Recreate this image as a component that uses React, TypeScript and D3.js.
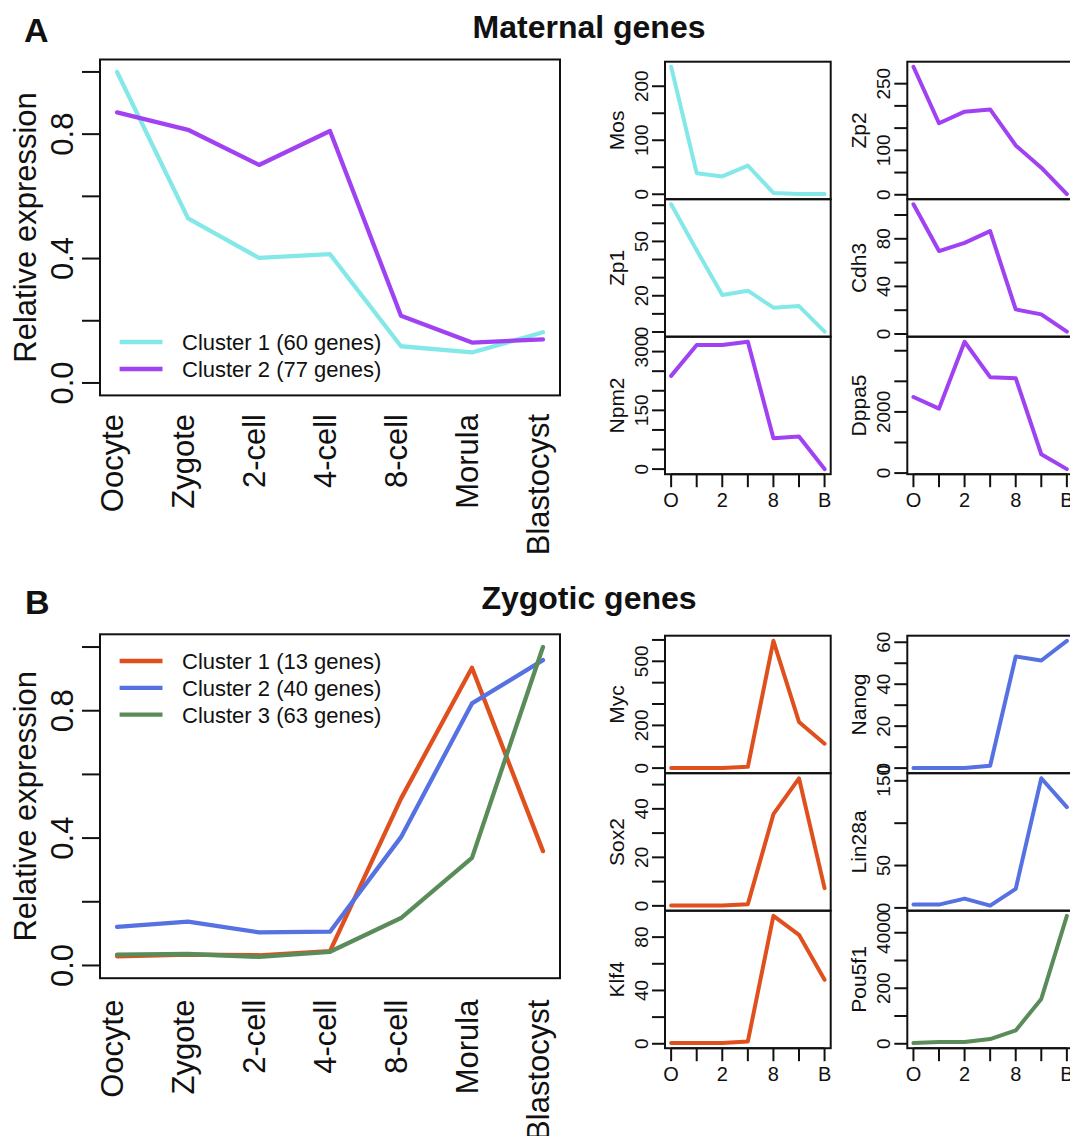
import React from "react";
import * as d3 from "d3";

// ---------- data ----------
const stages = ["Oocyte", "Zygote", "2-cell", "4-cell", "8-cell", "Morula", "Blastocyst"];
const shortStageLabels = ["O", "", "2", "", "8", "", "B"];

const maternalLegend = ["Cluster 1 (60 genes)", "Cluster 2 (77 genes)"];
const maternalCluster1 = [1.0, 0.529, 0.402, 0.414, 0.118, 0.098, 0.163];
const maternalCluster2 = [0.870, 0.814, 0.701, 0.810, 0.216, 0.130, 0.140];

const zygoticLegend = ["Cluster 1 (13 genes)", "Cluster 2 (40 genes)", "Cluster 3 (63 genes)"];
const zygoticCluster1 = [0.029, 0.034, 0.032, 0.045, 0.524, 0.935, 0.359];
const zygoticCluster2 = [0.121, 0.138, 0.104, 0.106, 0.403, 0.823, 0.959];
const zygoticCluster3 = [0.034, 0.036, 0.027, 0.043, 0.149, 0.338, 1.0];

const bigTicks = [0, 0.2, 0.4, 0.6, 0.8, 1.0];
const bigTickLabels = ["0.0", "", "0.4", "", "0.8", ""];

// maternal genes
const mosValues = [236, 39, 33, 53, 2.5, 0.5, 0.3];
const zp1Values = [70.5, 45.1, 20.4, 22.8, 13.4, 14.3, 0.2];
const npm2Values = [238, 317, 317, 325, 79, 83, 0];
const zp2Values = [288, 161, 187, 192, 111, 61, 1.5];
const cdh3Values = [109, 69.7, 76.6, 86.4, 20.7, 16.5, 2];
const dppa5Values = [2486, 2108, 4292, 3135, 3103, 616, 130];
// zygotic genes
const mycValues = [0, 0, 0, 6, 596, 216, 114];
const sox2Values = [0.1, 0.1, 0.1, 0.7, 37.8, 52.6, 7.3];
const klf4Values = [0.5, 0.5, 0.5, 1.75, 96, 81.75, 48];
const nanogValues = [0, 0, 0, 1.1, 53.2, 51.3, 60.7];
const lin28aValues = [3.9, 3.9, 11, 2.7, 22.4, 153, 119];
const pou5f1Values = [24, 60, 60, 168, 479, 1617, 4611];

const mosTicks = [0, 50, 100, 150, 200];
const mosTickLabels = ["0", "", "100", "", "200"];
const zp1Ticks = [0, 10, 20, 30, 40, 50, 60, 70];
const zp1TickLabels = ["0", "", "20", "", "", "50", "", ""];
const npm2Ticks = [0, 50, 100, 150, 200, 250, 300];
const npm2TickLabels = ["0", "", "", "150", "", "", "300"];
const zp2Ticks = [0, 50, 100, 150, 200, 250];
const zp2TickLabels = ["0", "", "100", "", "", "250"];
const cdh3Ticks = [0, 20, 40, 60, 80, 100];
const cdh3TickLabels = ["0", "", "40", "", "80", ""];
const dppa5Ticks = [0, 1000, 2000, 3000, 4000];
const dppa5TickLabels = ["0", "", "2000", "", ""];
const mycTicks = [0, 100, 200, 300, 400, 500, 600];
const mycTickLabels = ["0", "", "200", "", "", "500", ""];
const sox2Ticks = [0, 10, 20, 30, 40, 50];
const sox2TickLabels = ["0", "", "20", "", "40", ""];
const klf4Ticks = [0, 20, 40, 60, 80];
const klf4TickLabels = ["0", "", "40", "", "80"];
const nanogTicks = [0, 10, 20, 30, 40, 50, 60];
const nanogTickLabels = ["0", "", "20", "", "40", "", "60"];
const lin28aTicks = [0, 50, 100, 150];
const lin28aTickLabels = ["0", "50", "", "150"];
const pou5f1Ticks = [0, 1000, 2000, 3000, 4000];
const pou5f1TickLabels = ["0", "", "200", "", "4000"];

// ---------- styles ----------
const CYAN = "#84E8E8";
const PURPLE = "#A042F2";
const RED = "#E0501E";
const BLUE = "#5672E2";
const GREEN = "#5A8C5A";
const FONT = "'Liberation Sans', Arial, Helvetica, sans-serif";

type Series = { name: string; values: number[]; color: string };

function BigPanel(props: {
  x0: number; x1: number; y0: number; y1: number;
  series: Series[]; legendY: number; legendStep: number; labelTop: number;
}) {
  const { x0, x1, y0, y1, series, legendY, legendStep, labelTop } = props;
  const idx = stages.map((_, i) => i + 1);
  const x = d3.scaleLinear().domain([1 - 0.24, 7 + 0.24]).range([x0, x1]);
  const y = d3.scaleLinear().domain([-0.04, 1.04]).range([y1, y0]);
  const line = d3.line<number>().x((_, i) => x(i + 1)).y((v) => y(v));
  return (
    <g>
      {series.map((s) => (
        <path key={s.name} d={line(s.values) || ""} fill="none" stroke={s.color}
          strokeWidth={4.3} strokeLinejoin="round" strokeLinecap="round" />
      ))}
      <rect x={x0} y={y0} width={x1 - x0} height={y1 - y0} fill="none" stroke="#111" strokeWidth={2} />
      {bigTicks.map((t, i) => (
        <g key={t}>
          <line x1={x0 - 18} x2={x0} y1={y(t)} y2={y(t)} stroke="#111" strokeWidth={2} />
          {bigTickLabels[i] && (
            <text transform={`translate(${x0 - 27},${y(t)}) rotate(-90)`} textAnchor="middle"
              fontSize={31} fontFamily={FONT} fill="#111">{bigTickLabels[i]}</text>
          )}
        </g>
      ))}
      <text transform={`translate(36,${(y0 + y1) / 2}) rotate(-90)`} textAnchor="middle"
        fontSize={31} fontFamily={FONT} fill="#111">Relative expression</text>
      {idx.map((k, i) => (
        <text key={k} transform={`translate(${x(k) + 6},${labelTop}) rotate(-90)`} textAnchor="end"
          fontSize={31} fontFamily={FONT} fill="#111">{stages[i]}</text>
      ))}
      {series.map((s, i) => (
        <g key={"lg" + s.name}>
          <line x1={119.6} x2={162.5} y1={legendY + i * legendStep} y2={legendY + i * legendStep}
            stroke={s.color} strokeWidth={4.3} />
          <text x={182} y={legendY + i * legendStep + 8} fontSize={22} fontFamily={FONT} fill="#111">{s.name}</text>
        </g>
      ))}
    </g>
  );
}

function SmallPanel(props: {
  x0: number; y0: number; w: number; h: number; name: string; values: number[];
  color: string; ticks: number[]; tickLabels: string[]; xAxis: boolean;
}) {
  const { x0, y0, w, h, name, values, color, ticks, tickLabels, xAxis } = props;
  const x1 = x0 + w;
  const y1 = y0 + h;
  const [mn, mx] = d3.extent(values) as [number, number];
  const pad = (mx - mn) * 0.04;
  const x = d3.scaleLinear().domain([1 - 0.24, 7 + 0.24]).range([x0, x1]);
  const y = d3.scaleLinear().domain([mn - pad, mx + pad]).range([y1, y0]);
  const line = d3.line<number>().x((_, i) => x(i + 1)).y((v) => y(v));
  return (
    <g>
      <path d={line(values) || ""} fill="none" stroke={color} strokeWidth={4}
        strokeLinejoin="round" strokeLinecap="round" />
      <rect x={x0} y={y0} width={w} height={h} fill="none" stroke="#111" strokeWidth={2} />
      {ticks.map((t, i) => (
        <g key={t}>
          <line x1={x0 - 13} x2={x0} y1={y(t)} y2={y(t)} stroke="#111" strokeWidth={2} />
          {tickLabels[i] && (
            <text transform={`translate(${x0 - 17},${y(t)}) rotate(-90)`} textAnchor="middle"
              fontSize={19} fontFamily={FONT} fill="#111">{tickLabels[i]}</text>
          )}
        </g>
      ))}
      <text transform={`translate(${x0 - 41},${(y0 + y1) / 2}) rotate(-90)`} textAnchor="middle"
        fontSize={21} fontFamily={FONT} fill="#111">{name}</text>
      {xAxis && (
        <g>
          <line x1={x(1)} x2={x(7)} y1={y1} y2={y1} stroke="#111" strokeWidth={2} />
          {shortStageLabels.map((lab, i) => (
            <g key={i}>
              <line x1={x(i + 1)} x2={x(i + 1)} y1={y1} y2={y1 + 13} stroke="#111" strokeWidth={2} />
              {lab && (
                <text x={x(i + 1)} y={y1 + 33} textAnchor="middle" fontSize={20} fontFamily={FONT} fill="#111">{lab}</text>
              )}
            </g>
          ))}
        </g>
      )}
    </g>
  );
}

export default function App() {
  const colX = [665, 907.3];
  const W = 165.7;
  const H = 137.5;
  const matRows = [61.7, 199.2, 336.7];
  const zygRows = [635.7, 773.2, 910.7];

  const maternalSeries: Series[] = [
    { name: maternalLegend[0], values: maternalCluster1, color: CYAN },
    { name: maternalLegend[1], values: maternalCluster2, color: PURPLE },
  ];
  const zygoticSeries: Series[] = [
    { name: zygoticLegend[0], values: zygoticCluster1, color: RED },
    { name: zygoticLegend[1], values: zygoticCluster2, color: BLUE },
    { name: zygoticLegend[2], values: zygoticCluster3, color: GREEN },
  ];

  const matSmall = [
    { name: "Mos", values: mosValues, color: CYAN, ticks: mosTicks, labels: mosTickLabels, c: 0, r: 0 },
    { name: "Zp1", values: zp1Values, color: CYAN, ticks: zp1Ticks, labels: zp1TickLabels, c: 0, r: 1 },
    { name: "Npm2", values: npm2Values, color: PURPLE, ticks: npm2Ticks, labels: npm2TickLabels, c: 0, r: 2 },
    { name: "Zp2", values: zp2Values, color: PURPLE, ticks: zp2Ticks, labels: zp2TickLabels, c: 1, r: 0 },
    { name: "Cdh3", values: cdh3Values, color: PURPLE, ticks: cdh3Ticks, labels: cdh3TickLabels, c: 1, r: 1 },
    { name: "Dppa5", values: dppa5Values, color: PURPLE, ticks: dppa5Ticks, labels: dppa5TickLabels, c: 1, r: 2 },
  ];
  const zygSmall = [
    { name: "Myc", values: mycValues, color: RED, ticks: mycTicks, labels: mycTickLabels, c: 0, r: 0 },
    { name: "Sox2", values: sox2Values, color: RED, ticks: sox2Ticks, labels: sox2TickLabels, c: 0, r: 1 },
    { name: "Klf4", values: klf4Values, color: RED, ticks: klf4Ticks, labels: klf4TickLabels, c: 0, r: 2 },
    { name: "Nanog", values: nanogValues, color: BLUE, ticks: nanogTicks, labels: nanogTickLabels, c: 1, r: 0 },
    { name: "Lin28a", values: lin28aValues, color: BLUE, ticks: lin28aTicks, labels: lin28aTickLabels, c: 1, r: 1 },
    { name: "Pou5f1", values: pou5f1Values, color: GREEN, ticks: pou5f1Ticks, labels: pou5f1TickLabels, c: 1, r: 2 },
  ];

  return (
    <svg width={1070} height={1136} style={{ position: "absolute", left: 0, top: 0, background: "#fff" }}>
      <rect x={0} y={0} width={1070} height={1136} fill="#fff" />
      <text x={24} y={42} fontSize={34} fontWeight="bold" fontFamily={FONT} fill="#111">A</text>
      <text x={589} y={38} textAnchor="middle" fontSize={32} fontWeight="bold" fontFamily={FONT} fill="#111">Maternal genes</text>
      <text x={25} y={614} fontSize={34} fontWeight="bold" fontFamily={FONT} fill="#111">B</text>
      <text x={589} y={609} textAnchor="middle" fontSize={32} fontWeight="bold" fontFamily={FONT} fill="#111">Zygotic genes</text>

      <BigPanel x0={100} x1={560} y0={59.5} y1={395.4} series={maternalSeries}
        legendY={342} legendStep={27} labelTop={414} />
      <BigPanel x0={100} x1={560} y0={634.3} y1={978.2} series={zygoticSeries}
        legendY={661} legendStep={26.8} labelTop={999.6} />

      {matSmall.map((p) => (
        <SmallPanel key={p.name} x0={colX[p.c]} y0={matRows[p.r]} w={W} h={H} name={p.name}
          values={p.values} color={p.color} ticks={p.ticks} tickLabels={p.labels} xAxis={p.r === 2} />
      ))}
      {zygSmall.map((p) => (
        <SmallPanel key={p.name} x0={colX[p.c]} y0={zygRows[p.r]} w={W} h={H} name={p.name}
          values={p.values} color={p.color} ticks={p.ticks} tickLabels={p.labels} xAxis={p.r === 2} />
      ))}
    </svg>
  );
}
